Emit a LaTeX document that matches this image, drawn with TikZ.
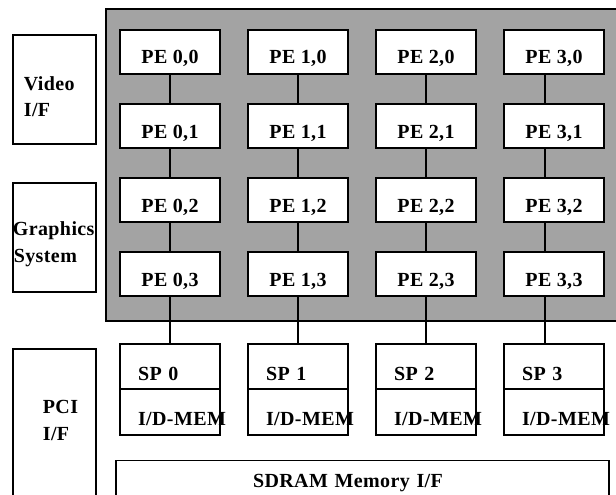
\documentclass[tikz,border=0pt]{standalone}
\usepackage{fontspec}
\setmainfont{Liberation Serif}[LetterSpace=2]
\definecolor{shade}{gray}{0.64}
\begin{document}
\begin{tikzpicture}[x=1pt,y=-1pt,line width=1.7pt,
  lbl/.style={font=\bfseries\fontsize{20}{22}\selectfont},
  pe/.style={lbl,draw,fill=white,minimum width=100pt,inner sep=0pt,text height=34pt,text depth=10pt},
  spbox/.style={lbl,draw,fill=white,inner xsep=18pt,inner ysep=0pt,text width=64pt,align=left,text height=36pt,text depth=9pt},
  membox/.style={spbox,text depth=10pt},
  sidebox/.style={draw,minimum width=83pt,inner sep=0pt},
  side/.style={lbl,anchor=base west,inner sep=0pt},
  link/.style={line width=1.8pt}]
\useasboundingbox (0,0) rectangle (616,495);
\clip (0,0) rectangle (616,495);
% shaded PE array area
\draw[fill=shade] (630,9) -- (106,9) -- (106,321) -- (630,321);
% PE grid
\foreach \c/\x in {0/170,1/298,2/426,3/554}{
  \foreach \r/\y in {0/52,1/126,2/200,3/274}{
    \node[pe] (p\c\r) at (\x,\y) {PE \c,\r};
  }
  \node[spbox] (sp\c) at (\x,366.5) {SP \c};
  \node[membox] (mem\c) at (\x,412) {\mbox{I/D-MEM}};
}
% vertical links
\foreach \c in {0,1,2}{
  \draw[link] (p\c0) -- (p\c1);
  \draw[link] (p\c1) -- (p\c2);
  \draw[link] (p\c2) -- (p\c3);
  \draw[link] (p\c3.south) -- (sp\c.north);
}
\draw[link] ([xshift=-9pt]p30.south) -- ([xshift=-9pt]p31.north);
\draw[link] ([xshift=-9pt]p31.south) -- ([xshift=-9pt]p32.north);
\draw[link] ([xshift=-9pt]p32.south) -- ([xshift=-9pt]p33.north);
\draw[link] ([xshift=-9pt]p33.south) -- ([xshift=-9pt]sp3.north);
% side boxes
\node[sidebox,minimum height=109pt] (vid) at (54.5,89.5) {};
\node[sidebox,minimum height=109pt] (gfx) at (54.5,237.5) {};
\node[sidebox,minimum height=151pt] (pci) at (54.5,424.5) {};
\node[side] (vidA) at (23,90) {Video};
\node[side] (vidB) at (23,117) {I/F};
\node[side] (gfxA) at (12,235) {Graphics};
\node[side] (gfxB) at (13,262) {System};
\node[side] (pciA) at (42,413) {PCI};
\node[side] (pciB) at (42,440) {I/F};
% SDRAM interface
\node[lbl,draw,inner sep=0pt,text width=493pt,align=left,text height=27pt,text depth=12pt] (sdram) at (362.5,480) {\hspace*{137pt}SDRAM Memory I/F};
\end{tikzpicture}
\end{document}
